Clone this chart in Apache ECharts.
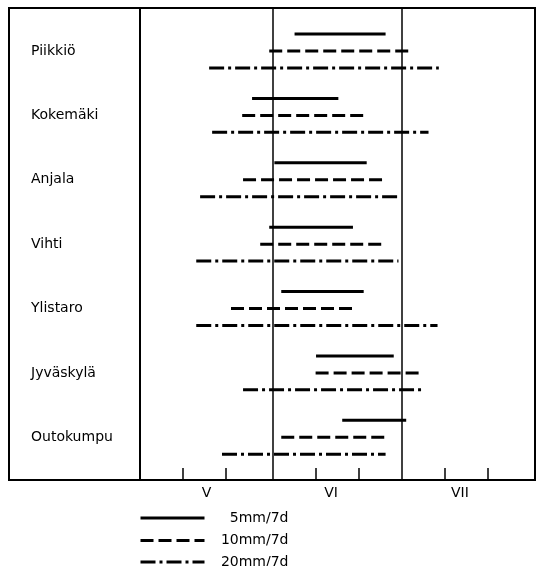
<!DOCTYPE html>
<html>
<head>
<meta charset="utf-8">
<script src="https://cdn.jsdelivr.net/npm/echarts@6/dist/echarts.min.js"></script>
<style>
html,body{margin:0;padding:0;background:#fff;}
#chart{width:539px;height:566px;}
</style>
</head>
<body>
<div id="chart"></div>
<script>
// Stations (top to bottom)
const stations = ['Piikkiö', 'Kokemäki', 'Anjala', 'Vihti', 'Ylistaro', 'Jyväskylä', 'Outokumpu'];
// Periods in days counted from 1 May (day 0)
const start5 = [36.0, 26.1, 31.3, 30.1, 32.9, 41.0, 47.1];
const end5   = [57.2, 46.2, 52.8, 49.6, 52.1, 59.1, 62.0];
const start10 = [30.1, 23.8, 24.0, 28.0, 21.2, 40.9, 32.9];
const end10   = [63.0, 53.0, 57.0, 56.4, 50.4, 66.0, 57.2];
const start20 = [16.1, 16.8, 14.0, 13.1, 13.1, 24.0, 19.1];
const end20   = [69.6, 67.2, 60.5, 60.2, 69.3, 66.3, 57.2];
const seriesNames = ['5mm/7d', '10mm/7d', '20mm/7d'];
// Month labels and axis marks (days from 1 May)
const monthLabels = ['V', 'VI', 'VII'];
const monthLabelPos = [15.5, 44.5, 74.5];
const monthBounds = [31, 61];
const tickDays = [10, 20, 41, 51, 71, 81];

const FONT = 'DejaVu Sans';
const rowOffset = [-0.264, 0, 0.264];
const dashTypes = ['solid', [13, 5], [15, 4, 3, 4]];
const starts = [start5, start10, start20];
const ends = [end5, end10, end20];

const series = [];
for (let k = 0; k < 3; k++) {
  for (let i = 0; i < stations.length; i++) {
    const y = i + rowOffset[k];
    series.push({
      type: 'line',
      name: seriesNames[k],
      color: '#000',
      data: [[starts[k][i], y], [ends[k][i], y]],
      symbol: 'none',
      silent: true,
      animation: false,
      lineStyle: { color: '#000', width: 3, type: dashTypes[k] }
    });
  }
}
series[0].markLine = {
  silent: true,
  symbol: 'none',
  label: { show: false },
  lineStyle: { color: '#000', width: 1.5, type: 'solid' },
  data: monthBounds.map(d => ({ xAxis: d }))
};

const legendTops = [511, 533.5, 555];
const legends = seriesNames.map((n, k) => ({
  orient: 'horizontal', left: 139, top: legendTops[k], padding: 0,
  itemWidth: 64, itemHeight: 14,
  data: [n],
  selectedMode: false,
  itemStyle: { opacity: 0 },
  lineStyle: { color: '#000', width: 3, type: dashTypes[k] },
  formatter: s => '{a|' + s + '}',
  textStyle: {
    color: '#000', fontFamily: FONT, fontSize: 14,
    rich: { a: { width: 79, align: 'right', fontFamily: FONT, fontSize: 14, color: '#000', lineHeight: 14 } }
  }
}));

const chart = echarts.init(document.getElementById('chart'));
chart.setOption({
  backgroundColor: '#fff',
  animation: false,
  grid: { left: 140, right: 4, top: 8, bottom: 86, show: true, borderColor: '#000', borderWidth: 2 },
  xAxis: {
    type: 'value', min: 0, max: 92,
    axisLine: { show: true, onZero: false, lineStyle: { color: '#000', width: 2 } },
    splitLine: { show: false },
    axisTick: { show: true, inside: true, length: 12, customValues: tickDays, lineStyle: { color: '#000', width: 1.5 } },
    axisLabel: {
      show: true, customValues: monthLabelPos, margin: 6,
      color: '#000', fontFamily: FONT, fontSize: 14,
      formatter: v => monthLabels[monthLabelPos.indexOf(v)] || ''
    }
  },
  yAxis: {
    type: 'value', inverse: true, min: -0.668, max: 6.664,
    axisLine: { show: true, onZero: false, lineStyle: { color: '#000', width: 2 } },
    splitLine: { show: false },
    axisTick: { show: false },
    axisLabel: {
      show: true, customValues: stations.map((s, i) => i), align: 'left', margin: 109,
      color: '#000', fontFamily: FONT, fontSize: 14,
      formatter: v => stations[Math.round(v)] || ''
    }
  },
  legend: legends,
  graphic: [{
    type: 'rect', silent: true,
    shape: { x: 9, y: 8, width: 526, height: 472 },
    style: { fill: 'none', stroke: '#000', lineWidth: 2 }
  }],
  series: series
});
</script>
</body>
</html>
